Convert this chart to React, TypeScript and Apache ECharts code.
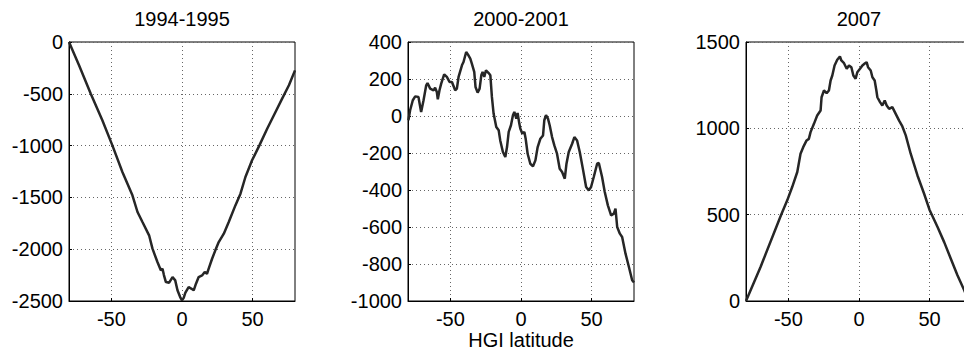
import React, { useEffect, useRef } from "react";
import * as echarts from "echarts";

// Panel titles and axis ticks
const titles = ["1994-1995", "2000-2001", "2007"];
const xTicks = [-50, 0, 50];
const xLabel = "HGI latitude";

// Panel 1: 1994-1995
const lat1 = [-80, -72.9, -64.6, -56.4, -49.3, -42.2, -35.1, -31.5, -28, -23.3, -20.9, -17.4, -15, -13.8, -12.8, -11.4, -9.1, -6.7, -4.8, -3.2, -1.3, 0, 1.2, 2.4, 4.7, 6.5, 8.3, 9.9, 11.8, 14.2, 16.1, 17.7, 18.9, 21.3, 23.6, 26, 29.6, 33.1, 37.8, 41.4, 44.9, 49.6, 54.8, 60.3, 66.2, 70.9, 75.7, 80];
const val1 = [0, -225, -499, -756, -998, -1255, -1480, -1641, -1738, -1866, -1995, -2124, -2204, -2188, -2250, -2317, -2323, -2269, -2301, -2397, -2462, -2494, -2470, -2420, -2365, -2380, -2397, -2333, -2269, -2253, -2220, -2237, -2188, -2092, -2011, -1931, -1850, -1738, -1577, -1464, -1303, -1142, -998, -837, -676, -547, -418, -274];

// Panel 2: 2000-2001
const lat2 = [-79.7, -78.5, -76.6, -74.9, -72.6, -70.7, -69, -67.1, -66.2, -64.3, -61.9, -60.8, -59.6, -58.9, -57.7, -56.5, -54.4, -52.5, -50.6, -48.9, -46.6, -45.4, -44.2, -41.8, -40.7, -38.8, -37.6, -35.9, -34.8, -33.1, -32.2, -30.7, -29.3, -28.1, -27.2, -26, -24.8, -22.9, -21.7, -20.6, -19.4, -17.5, -15.8, -14.7, -12.8, -11.1, -9.9, -8.7, -7.1, -5.7, -4.7, -3.3, -2.4, -1.2, -0.5, 0.9, 2.4, 3.3, 4.7, 6.6, 8.5, 10.2, 11.8, 13.7, 15.6, 16.5, 17.7, 19.1, 20.3, 22, 23.6, 25.5, 27.4, 29.1, 31, 32.2, 33.8, 36.2, 37.8, 39.7, 41.6, 44, 46.1, 48, 49.6, 51.5, 53.9, 55.1, 57.4, 59.3, 61.5, 63.8, 65.7, 66.9, 68.1, 70, 71.6, 74, 76.4, 78.7, 80];
const val2 = [-23, 31, 85, 106, 103, 22, 85, 166, 178, 148, 139, 153, 130, 90, 139, 175, 225, 211, 184, 184, 139, 148, 211, 274, 292, 346, 333, 310, 283, 238, 157, 126, 148, 220, 238, 211, 247, 232, 220, 103, 13, -59, -77, -132, -195, -222, -168, -86, -50, 4, 22, -14, 16, -41, -68, -95, -86, -123, -204, -258, -272, -240, -168, -123, -105, -23, 4, -14, -50, -114, -159, -204, -285, -303, -339, -258, -195, -150, -114, -132, -195, -294, -384, -402, -384, -330, -258, -254, -330, -411, -483, -537, -528, -501, -600, -636, -654, -744, -816, -888, -900];

// Panel 3: 2007
const lat3 = [-80, -69.7, -55.1, -50.8, -47.3, -43.7, -41.4, -39.5, -37.1, -35.5, -34.3, -31.9, -29.6, -27.2, -26.5, -24.8, -22.9, -21.3, -20.1, -18.9, -17.3, -15.4, -13.5, -12.5, -10.6, -8.7, -7.1, -5.4, -4, -2.4, -1.2, 0.7, 2.4, 4.3, 5.4, 6.4, 8.3, 9.5, 11.1, 12.3, 13, 14.9, 16.5, 18.2, 19.6, 21.3, 23.6, 26, 28.4, 30.7, 33.1, 36.6, 41.4, 46.1, 49.9, 55.6, 60.3, 65, 69.7, 74.5, 77.5, 80];
const val3 = [0, 197, 500, 583, 660, 747, 853, 891, 930, 939, 978, 1026, 1074, 1103, 1180, 1219, 1204, 1219, 1277, 1306, 1364, 1397, 1416, 1393, 1377, 1345, 1364, 1354, 1306, 1287, 1325, 1345, 1364, 1377, 1383, 1354, 1335, 1296, 1277, 1219, 1180, 1152, 1132, 1161, 1132, 1113, 1123, 1084, 1045, 1011, 959, 853, 727, 621, 529, 428, 341, 245, 149, 62, 0, -50];

const yRanges = [
  { min: -2500, max: 0, interval: 500 },
  { min: -1000, max: 400, interval: 200 },
  { min: 0, max: 1500, interval: 500 },
];

const zip = (xs: number[], ys: number[]) => xs.map((x, i) => [x, ys[i]]);

export default function App() {
  const ref = useRef<HTMLDivElement>(null);
  useEffect(() => {
    const chart = echarts.init(ref.current!, null, { renderer: "svg" });
    const font = "'Liberation Sans', Arial, Helvetica, sans-serif";
    const lefts = [69, 408, 746];
    const centers = lefts.map((l) => l + 113);
    const gridLine = { show: true, lineStyle: { color: "#666", type: [1, 3] as any, width: 1 } };
    const series = [zip(lat1, val1), zip(lat2, val2), zip(lat3, val3)];
    const plain = (v: number) => String(v);
    chart.setOption({
      animation: false,
      backgroundColor: "#fff",
      grid: lefts.map((l) => ({
        left: l,
        top: 42,
        width: 226,
        height: 259,
        show: true,
        borderColor: "#000",
        borderWidth: 1,
        backgroundColor: "transparent",
        containLabel: false,
        outerBoundsMode: "none",
      })),
      xAxis: [0, 1, 2].map((i) => ({
        type: "value",
        gridIndex: i,
        min: -80,
        max: 80,
        axisLine: { show: true, onZero: false, lineStyle: { color: "#000", width: 1 } },
        axisTick: { show: true, inside: true, length: 3, customValues: xTicks, lineStyle: { color: "#000" } },
        axisLabel: { customValues: xTicks, formatter: plain, color: "#000", fontSize: 20, fontFamily: font, margin: 8 },
        splitLine: gridLine,
      })),
      yAxis: [0, 1, 2].map((i) => ({
        type: "value",
        gridIndex: i,
        min: yRanges[i].min,
        max: yRanges[i].max,
        interval: yRanges[i].interval,
        axisLine: { show: true, onZero: false, lineStyle: { color: "#000", width: 1 } },
        axisTick: { show: true, inside: true, length: 3, lineStyle: { color: "#000" } },
        axisLabel: { formatter: plain, color: "#000", fontSize: 20, fontFamily: font, margin: 6 },
        splitLine: gridLine,
      })),
      series: series.map((d, i) => ({
        type: "line",
        xAxisIndex: i,
        yAxisIndex: i,
        data: d,
        showSymbol: false,
        symbol: "none",
        clip: true,
        lineStyle: { color: "#262626", width: 2.5 },
      })),
      graphic: [
        ...titles.map((t, i) => ({
          type: "text",
          x: centers[i],
          y: 19,
          style: { text: t, fill: "#000", font: `20px ${font}`, textAlign: "center", textVerticalAlign: "middle" },
        })),
        {
          type: "text",
          x: centers[1],
          y: 340,
          style: { text: xLabel, fill: "#000", font: `20px ${font}`, textAlign: "center", textVerticalAlign: "middle" },
        },
      ],
    });
    return () => chart.dispose();
  }, []);
  return <div ref={ref} style={{ position: "absolute", left: 0, top: 0, width: 964, height: 351 }} />;
}
